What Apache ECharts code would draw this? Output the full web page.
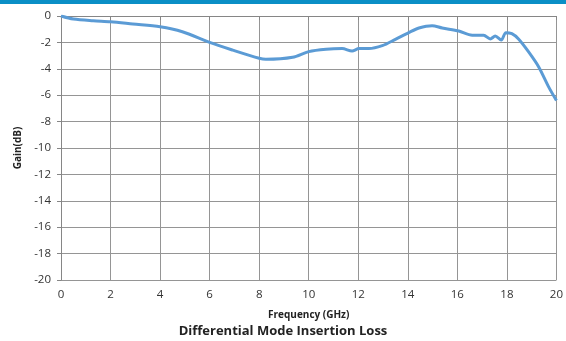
<!DOCTYPE html>
<html><head><meta charset="utf-8">
<script src="https://cdn.jsdelivr.net/npm/echarts@6/dist/echarts.min.js"></script>
<style>html,body{margin:0;padding:0;background:#fff}#c{width:566px;height:341px}</style>
</head><body><div id="c"></div>
<script>
var freq = [0, 0.5, 1.3, 2.0, 2.9, 4.0, 4.9, 6.0, 6.93, 8.0, 8.27, 9.35, 10.0, 10.7, 11.35, 11.75, 12.03, 12.43, 12.97, 13.5, 14.04, 14.45, 14.98, 15.39, 16.06, 16.6, 17.06, 17.33, 17.53, 17.77, 17.96, 18.2, 18.47, 18.87, 19.28, 19.68, 20.0];
var gain = [0, -0.23, -0.36, -0.43, -0.6, -0.81, -1.19, -2.0, -2.58, -3.2, -3.28, -3.13, -2.7, -2.52, -2.47, -2.65, -2.47, -2.47, -2.25, -1.77, -1.26, -0.91, -0.73, -0.91, -1.14, -1.46, -1.46, -1.74, -1.52, -1.82, -1.26, -1.34, -1.74, -2.7, -3.84, -5.35, -6.4];
var xTitle = 'Frequency (GHz)';
var yTitle = 'Gain(dB)';
var chartTitle = 'Differential Mode Insertion Loss';

var font = 'Open Sans, Liberation Sans, sans-serif';
var chart = echarts.init(document.getElementById('c'));
var pts = freq.map(function(f, i){ return [f, gain[i]]; });
chart.setOption({
  animation: false,
  graphic: [
    {type:'rect', shape:{x:0,y:0,width:566,height:4}, style:{fill:'#0a8fc6'}},
    {type:'text', left:'center', top:325, style:{text: chartTitle, font:'bold 13px ' + font, fill:'#222'}}
  ],
  grid: {left: 61, right: 8, top: 16, bottom: 61},
  xAxis: {
    type: 'value', min: 0, max: 20, interval: 2,
    name: xTitle, nameLocation: 'middle', nameGap: 30,
    nameTextStyle: {fontFamily: font, fontWeight: 'bold', fontSize: 10, color: '#222'},
    axisLine: {show: true, lineStyle: {color: '#868686', width: 1}},
    axisTick: {show: true, length: 4, lineStyle: {color: '#868686'}},
    axisLabel: {fontFamily: font, fontSize: 11.5, color: '#333', margin: 9},
    splitLine: {show: true, lineStyle: {color: '#959595', width: 1}}
  },
  yAxis: {
    type: 'value', min: -20, max: 0, interval: 2,
    name: yTitle, nameLocation: 'middle', nameGap: 36, nameRotate: 90,
    nameTextStyle: {fontFamily: font, fontWeight: 'bold', fontSize: 10, color: '#222'},
    axisLine: {show: true, lineStyle: {color: '#868686', width: 1}},
    axisTick: {show: true, length: 4, lineStyle: {color: '#868686'}},
    axisLabel: {fontFamily: font, fontSize: 11.5, color: '#333', margin: 10},
    splitLine: {show: true, lineStyle: {color: '#959595', width: 1}}
  },
  series: [{
    type: 'line', data: pts, showSymbol: false, smooth: 0.3,
    lineStyle: {color: '#5b9bd5', width: 3}
  }]
});
</script></body></html>
